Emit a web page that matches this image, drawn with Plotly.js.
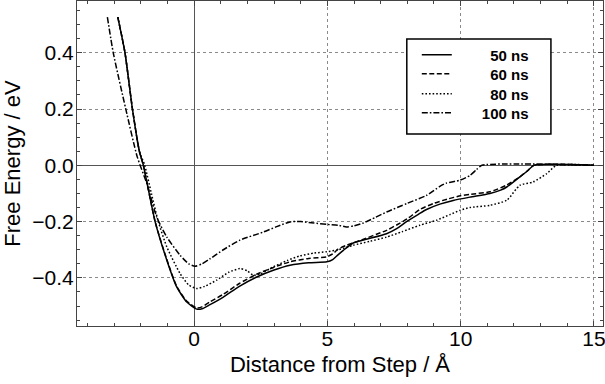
<!DOCTYPE html>
<html>
<head>
<meta charset="utf-8">
<script src="https://cdn.plot.ly/plotly-3.0.1.min.js"></script>
<style>html,body{margin:0;padding:0;background:#fff;}#chart{width:605px;height:384px;}</style>
</head>
<body>
<div id="chart"></div>
<script>
// Series labels
const seriesNames = ["50 ns", "60 ns", "80 ns", "100 ns"];

// 50 ns
const x50 = [-2.86,-2.59,-2.31,-2.05,-1.9,-1.46,-1.02,-0.65,-0.27,0.1,0.3,0.6,1.1,1.7,2.35,3.0,3.6,4.3,4.98,5.2,5.4,5.6,5.97,6.5,7.22,7.6,7.97,8.4,8.72,9.22,9.72,10.35,11.1,11.5,11.73,12.22,12.5,12.75,15.0];
const y50 = [0.527,0.4,0.2,0.05,0.0,-0.2,-0.337,-0.432,-0.486,-0.511,-0.51,-0.495,-0.468,-0.43,-0.397,-0.372,-0.355,-0.346,-0.343,-0.335,-0.318,-0.302,-0.276,-0.262,-0.243,-0.225,-0.2,-0.175,-0.157,-0.138,-0.125,-0.113,-0.1,-0.088,-0.077,-0.041,-0.02,0.0,0.0];

// 60 ns
const x60 = [-2.86,-2.59,-2.31,-2.05,-1.9,-1.46,-1.02,-0.65,-0.27,0.1,0.3,0.6,1.1,1.7,2.35,3.0,3.6,4.3,4.98,5.2,5.4,5.72,6.2,7.22,7.6,8.0,8.47,9.0,9.5,10.0,10.35,11.1,11.73,12.22,12.5,12.75,15.0];
const y60 = [0.527,0.4,0.2,0.05,0.0,-0.2,-0.335,-0.43,-0.483,-0.507,-0.503,-0.485,-0.458,-0.42,-0.387,-0.362,-0.343,-0.331,-0.325,-0.315,-0.298,-0.284,-0.268,-0.231,-0.212,-0.19,-0.157,-0.135,-0.12,-0.108,-0.103,-0.094,-0.07,-0.041,-0.02,0.0,0.0];

// 80 ns
const x80 = [-2.86,-2.59,-2.31,-2.05,-1.85,-1.6,-1.34,-1.02,-0.52,-0.2,0.1,0.4,0.85,1.3,1.72,2.0,2.22,2.5,2.97,3.5,3.97,4.5,4.98,5.41,5.97,6.6,7.22,7.8,8.47,9.1,9.6,9.97,10.35,11.1,11.73,12.22,12.72,13.22,13.6,15.0];
const y80 = [0.527,0.4,0.2,0.05,0.0,-0.1,-0.2,-0.29,-0.385,-0.425,-0.438,-0.43,-0.408,-0.38,-0.367,-0.375,-0.391,-0.385,-0.361,-0.338,-0.322,-0.312,-0.307,-0.3,-0.284,-0.27,-0.255,-0.236,-0.213,-0.195,-0.175,-0.16,-0.15,-0.142,-0.124,-0.071,-0.059,-0.03,0.0,0.0];

// 100 ns
const x100 = [-3.25,-3.03,-2.56,-2.13,-1.77,-1.4,-1.02,-0.52,-0.2,0.04,0.3,0.6,1.1,1.72,2.6,3.1,3.6,4.0,4.5,4.98,5.41,5.72,6.0,6.35,6.8,7.22,8.0,8.72,9.22,9.47,9.97,10.35,10.6,10.8,15.0];
const y100 = [0.527,0.4,0.2,0.03,-0.065,-0.184,-0.255,-0.32,-0.35,-0.359,-0.35,-0.332,-0.3,-0.266,-0.237,-0.218,-0.201,-0.2,-0.205,-0.21,-0.213,-0.219,-0.215,-0.205,-0.185,-0.166,-0.135,-0.107,-0.075,-0.063,-0.053,-0.036,-0.015,0.0,0.0];

const NB = "\u00A0";
function pad(n){ return NB.repeat(n); }

const xs = [x50, x60, x80, x100];
const ys = [y50, y60, y80, y100];
const dashes = ["solid", "5px,2.5px", "1.6px,2px", "6px,2px,1.6px,2px"];
const pads = [8, 8, 8, 6];
const legendIds = ["legend", "legend2", "legend3", "legend4"];
const legendY = [0.8338, 0.7754, 0.7138, 0.6554];

const traces = xs.map((x, i) => ({
  x: x, y: ys[i], type: "scatter", mode: "lines",
  name: pad(pads[i]) + seriesNames[i],
  legend: legendIds[i],
  line: {color: "#000", width: 1.5, dash: dashes[i], shape: "spline", smoothing: 0.6}
}));

const font = "Liberation Sans, Arial, sans-serif";
const axisCommon = {
  ticks: "inside", ticklen: 5, tickcolor: "#444", tickwidth: 1,
  showline: true, linecolor: "#444", linewidth: 1, mirror: "ticks",
  showgrid: true, gridcolor: "#8a8a8a", griddash: "dot", gridwidth: 1,
  zeroline: true, zerolinecolor: "#555", zerolinewidth: 1,
  tickfont: {family: font, size: 21, color: "#000"},
  ticklabeloverflow: "allow",
  automargin: false
};

const layout = {
  width: 605, height: 384,
  margin: {l: 77, r: 2, t: 1, b: 58, pad: 0},
  paper_bgcolor: "#fff", plot_bgcolor: "#fff",
  showlegend: true,
  xaxis: Object.assign({}, axisCommon, {
    range: [-4.39, 15.34], tick0: 0, dtick: 5,
    ticklabelstandoff: -6,
    minor: {dtick: 1, ticks: "inside", ticklen: 3, tickcolor: "#444", showgrid: false},
    title: {text: "Distance from Step / Å", font: {family: font, size: 22, color: "#000"}, standoff: 7}
  }),
  yaxis: Object.assign({}, axisCommon, {
    range: [-0.571, 0.584], tick0: 0, dtick: 0.2, tickformat: ".1f",
    ticklabelstandoff: -2,
    minor: {dtick: 0.05, ticks: "inside", ticklen: 3, tickcolor: "#444", showgrid: false},
    title: {text: "Free Energy / eV", font: {family: font, size: 22, color: "#000"}, standoff: 8}
  }),
  shapes: [{
    type: "rect", xref: "paper", yref: "paper",
    x0: 0.627, x1: 0.901, y0: 0.591, y1: 0.883,
    line: {color: "#000", width: 1.5}, fillcolor: "#fff", layer: "above"
  }]
};

legendIds.forEach((id, i) => {
  layout[id] = {
    x: 0.646, xanchor: "left", y: legendY[i], yanchor: "middle",
    bgcolor: "rgba(0,0,0,0)", borderwidth: 0,
    font: {family: font, size: 15, color: "#000", weight: 700}
  };
});

Plotly.newPlot("chart", traces, layout, {staticPlot: true, displayModeBar: false});
</script>
</body>
</html>
